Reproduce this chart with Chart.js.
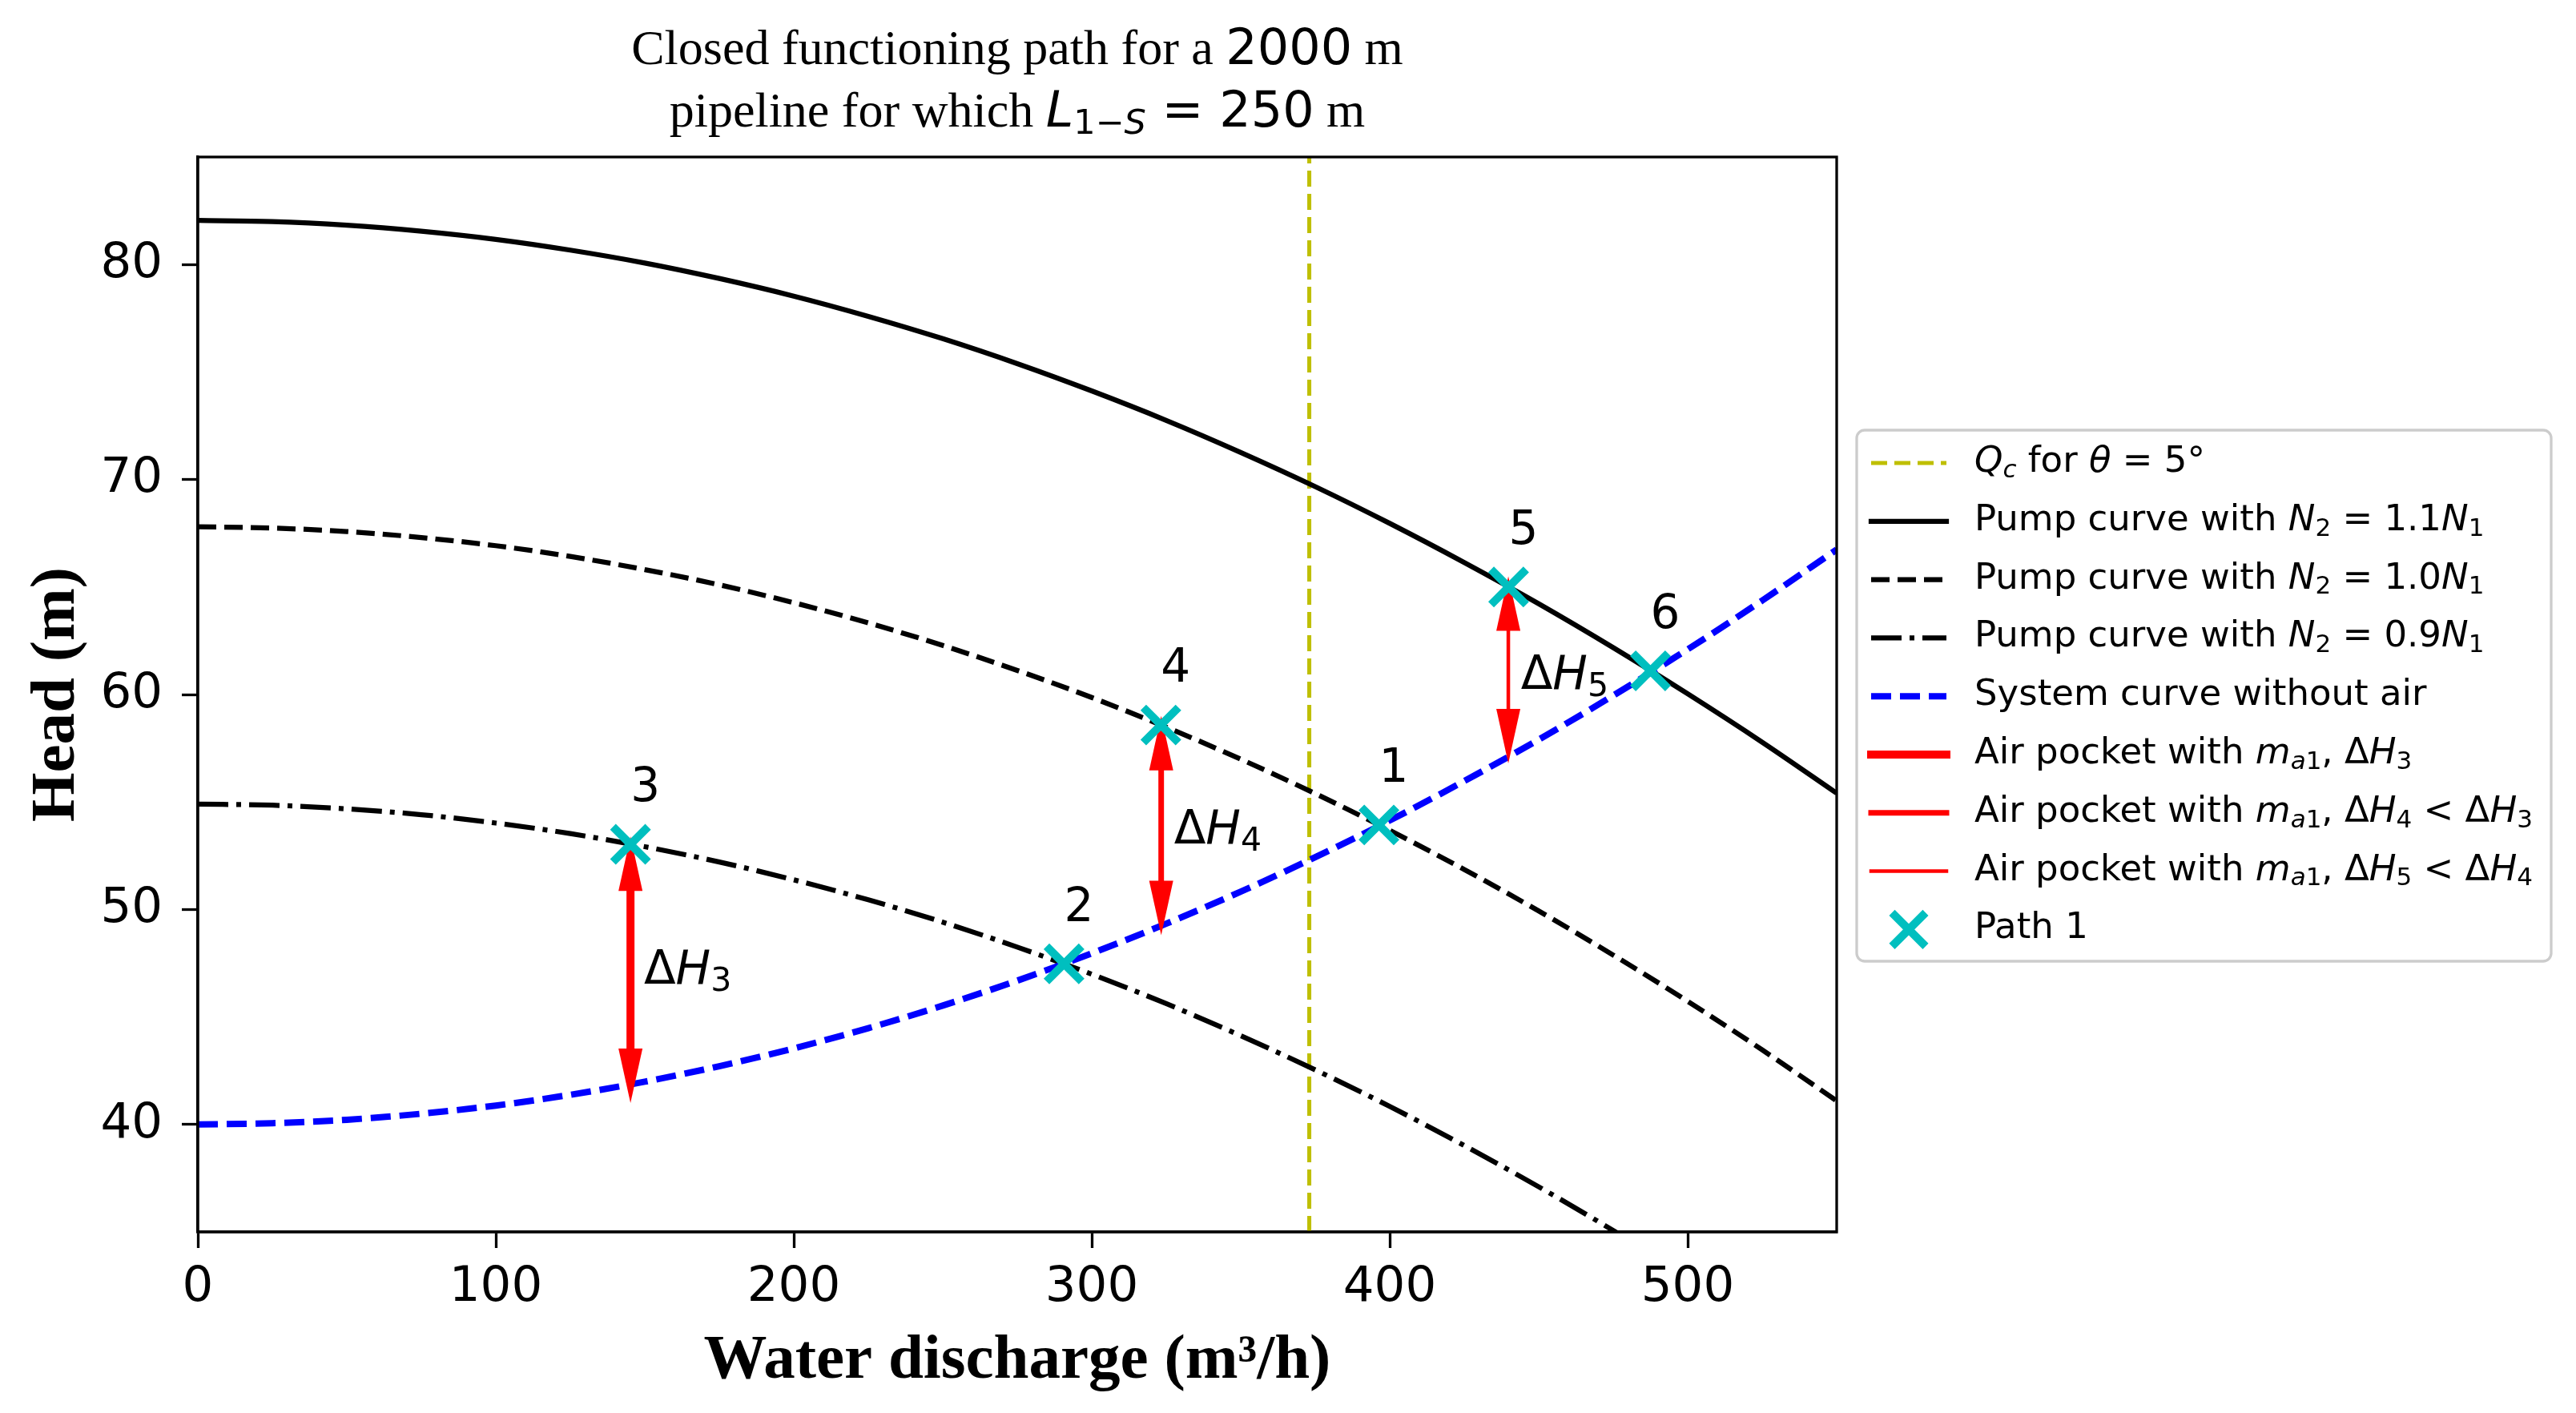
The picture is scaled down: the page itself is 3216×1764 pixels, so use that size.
<!DOCTYPE html>
<html><head><meta charset="utf-8">
<script src="https://cdn.jsdelivr.net/npm/chart.js@4.4.1/dist/chart.umd.min.js"></script>
<style>html,body{margin:0;padding:0;background:#fff;} canvas{display:block;}</style>
</head><body>
<canvas id="c" width="3216" height="1764" style="width:3216px;height:1764px"></canvas>
<script>
// ---------- data ----------
const discharge   = [0,25,50,75,100,125,150,175,200,225,250,275,300,325,350,375,400,425,450,475,500,525,550];
const pump11      = [82.05,82.00,81.83,81.55,81.17,80.67,80.07,79.35,78.53,77.59,76.55,75.39,74.12,72.75,71.26,69.67,67.96,66.14,64.22,62.18,60.03,57.78,55.41];
const pump10      = [67.80,67.74,67.58,67.30,66.92,66.42,65.81,65.10,64.27,63.33,62.28,61.12,59.86,58.48,56.99,55.39,53.68,51.86,49.93,47.88,45.73,43.47,41.10];
const pump09      = [54.90,54.85,54.68,54.41,54.02,53.53,52.92,52.21,51.38,50.45,49.41,48.25,46.99,45.62,44.13,42.54,40.84,39.02,37.10,35.07,32.93,30.67,28.31];
const systemCurve = [40.00,40.06,40.22,40.50,40.88,41.38,41.99,42.71,43.54,44.48,45.53,46.69,47.96,49.34,50.83,52.43,54.14,55.97,57.90,59.95,62.10,64.37,66.74];
const qcDischarge = [373, 373];
const qcHead      = [35, 85];
const pathQ       = [396.4, 290.7, 145.2, 323.2, 439.9, 487.5];
const pathH       = [53.93, 47.47, 53.03, 58.58, 65.0, 61.1];
const pathLabels  = ['1','2','3','4','5','6'];
const arrowQ      = [145.2, 323.3, 439.8];
const arrowTop    = [53.4, 59.0, 65.5];
const arrowBottom = [41.0, 48.8, 56.8];
const dhLabelQ    = [149.7, 327.6, 444.0];
const dhLabelH    = [46.55, 53.07, 60.26];
const dhSub       = ['3','4','5'];
const xTicks      = [0,100,200,300,400,500];
const yTicks      = [40,50,60,70,80];

// ---------- styling ----------
const SANS = "'DejaVu Sans'";
const SERIF = "'Liberation Serif'";
const CYAN = '#00bfbf', YEL = '#bfbf00', BLUE = '#0000ff', RED = '#ff0000';

function pts(xs, ys){ return xs.map((v,i)=>({x:v, y:ys[i]})); }

function S(t,size,o){ o=o||{}; return {t, size, italic:!!o.i, serif:!!o.serif, bold:!!o.b, dy:o.dy||0}; }
function rm(t,s){ return S(t,s); }
function it(t,s){ return S(t,s,{i:true}); }
function sub(t,s){ return S(t,Math.round(s*0.7),{dy:s*0.15}); }
function subIt(t,s){ return S(t,Math.round(s*0.7),{i:true,dy:s*0.15}); }
function sf(t,s){ return S(t,s,{serif:true}); }
function fontOf(s){ return (s.italic?'italic ':'')+(s.bold?'bold ':'')+s.size+'px '+(s.serif?SERIF:SANS); }
function richWidth(ctx,segs){ let w=0; for(const s of segs){ ctx.font=fontOf(s); w+=ctx.measureText(s.t).width; } return w; }
function drawRich(ctx,segs,x,y,align){
  let cx = x;
  if(align==='center') cx = x - richWidth(ctx,segs)/2;
  ctx.textAlign='left'; ctx.textBaseline='alphabetic'; ctx.fillStyle='#000';
  for(const s of segs){ ctx.font=fontOf(s); ctx.fillText(s.t,cx,y+s.dy); cx+=ctx.measureText(s.t).width; }
}

function drawArrows(chart){
  const {ctx, scales:{x,y}} = chart;
  const widths=[10,7,4.5], hl=68, hw=15;
  ctx.save();
  ctx.fillStyle=RED; ctx.strokeStyle=RED; ctx.lineCap='butt';
  for(let i=0;i<arrowQ.length;i++){
    const px=x.getPixelForValue(arrowQ[i]);
    const t=y.getPixelForValue(arrowTop[i]);
    const b=y.getPixelForValue(arrowBottom[i]);
    ctx.lineWidth=widths[i];
    ctx.beginPath(); ctx.moveTo(px,t+hl-4); ctx.lineTo(px,b-hl+4); ctx.stroke();
    ctx.beginPath(); ctx.moveTo(px,t); ctx.lineTo(px-hw,t+hl); ctx.lineTo(px+hw,t+hl); ctx.closePath(); ctx.fill();
    ctx.beginPath(); ctx.moveTo(px,b); ctx.lineTo(px-hw,b-hl); ctx.lineTo(px+hw,b-hl); ctx.closePath(); ctx.fill();
  }
  ctx.restore();
}

function drawLegend(ctx){
  const L=2318, T=537, R=3185, B=1200, r=10;
  ctx.save();
  ctx.beginPath();
  ctx.moveTo(L+r,T); ctx.lineTo(R-r,T); ctx.arcTo(R,T,R,T+r,r); ctx.lineTo(R,B-r); ctx.arcTo(R,B,R-r,B,r);
  ctx.lineTo(L+r,B); ctx.arcTo(L,B,L,B-r,r); ctx.lineTo(L,T+r); ctx.arcTo(L,T,L+r,T,r); ctx.closePath();
  ctx.fillStyle='rgba(255,255,255,0.8)'; ctx.fill();
  ctx.lineWidth=3.3; ctx.strokeStyle='#cccccc'; ctx.stroke();
  const fs=45, hx0=2336, hx1=2430, tx=2465;
  const rows=[
    {c:YEL, w:5, d:[20,9], segs:[it('Q',fs),subIt('c',fs),rm(' for ',fs),it('θ',fs),rm(' = 5°',fs)]},
    {c:'#000', w:6.25, d:[], segs:[rm('Pump curve with ',fs),it('N',fs),sub('2',fs),rm(' = 1.1',fs),it('N',fs),sub('1',fs)]},
    {c:'#000', w:6.25, d:[23,10], segs:[rm('Pump curve with ',fs),it('N',fs),sub('2',fs),rm(' = 1.0',fs),it('N',fs),sub('1',fs)]},
    {c:'#000', w:6.25, d:[38,10,6,10], segs:[rm('Pump curve with ',fs),it('N',fs),sub('2',fs),rm(' = 0.9',fs),it('N',fs),sub('1',fs)]},
    {c:BLUE, w:8, d:[25,11], segs:[rm('System curve without air',fs)]},
    {c:RED, w:10, d:[], segs:[rm('Air pocket with ',fs),it('m',fs),subIt('a',fs),sub('1',fs),rm(', Δ',fs),it('H',fs),sub('3',fs)]},
    {c:RED, w:7, d:[], segs:[rm('Air pocket with ',fs),it('m',fs),subIt('a',fs),sub('1',fs),rm(', Δ',fs),it('H',fs),sub('4',fs),rm(' < Δ',fs),it('H',fs),sub('3',fs)]},
    {c:RED, w:4.5, d:[], segs:[rm('Air pocket with ',fs),it('m',fs),subIt('a',fs),sub('1',fs),rm(', Δ',fs),it('H',fs),sub('5',fs),rm(' < Δ',fs),it('H',fs),sub('4',fs)]},
    {marker:true, segs:[rm('Path 1',fs)]}
  ];
  rows.forEach((row,i)=>{
    const yy=578+i*72.8;
    if(row.marker){
      const cx=(hx0+hx1)/2, a=21;
      ctx.strokeStyle=CYAN; ctx.lineWidth=10; ctx.lineCap='butt'; ctx.setLineDash([]);
      ctx.beginPath(); ctx.moveTo(cx-a,yy-a); ctx.lineTo(cx+a,yy+a); ctx.moveTo(cx+a,yy-a); ctx.lineTo(cx-a,yy+a); ctx.stroke();
    } else {
      ctx.strokeStyle=row.c; ctx.lineWidth=row.w; ctx.setLineDash(row.d);
      ctx.lineCap = row.d.length? 'butt':'square';
      ctx.beginPath(); ctx.moveTo(hx0,yy); ctx.lineTo(hx1,yy); ctx.stroke();
      ctx.setLineDash([]);
    }
    drawRich(ctx,row.segs,tx,yy+11,'left');
  });
  ctx.restore();
}

const overlay = {
  id:'overlay',
  beforeDatasetDraw(chart,args){ if(args.index===0) drawArrows(chart); },
  afterDatasetsDraw(chart){
    const {ctx, chartArea:a, scales:{x,y}} = chart;
    ctx.save();
    // point labels
    ctx.fillStyle='#000'; ctx.font='58px '+SANS; ctx.textAlign='left'; ctx.textBaseline='alphabetic';
    pathLabels.forEach((lab,i)=>{ ctx.fillText(lab, x.getPixelForValue(pathQ[i]), y.getPixelForValue(pathH[i]+2)); });
    // delta H labels
    dhSub.forEach((s,i)=>{
      drawRich(ctx,[rm('Δ',58),it('H',58),sub(s,58)], x.getPixelForValue(dhLabelQ[i]), y.getPixelForValue(dhLabelH[i]),'left');
    });
    // frame
    ctx.strokeStyle='#000'; ctx.lineWidth=3.3; ctx.setLineDash([]);
    ctx.strokeRect(a.left,a.top,a.right-a.left,a.bottom-a.top);
    ctx.restore();
  },
  afterDraw(chart){
    const ctx=chart.ctx, a=chart.chartArea, cx=(a.left+a.right)/2, cy=(a.top+a.bottom)/2;
    ctx.save();
    // title
    drawRich(ctx,[sf('Closed functioning path for a ',62),rm('2000',62),sf(' m',62)],cx,80,'center');
    drawRich(ctx,[sf('pipeline for which ',62),it('L',62),sub('1−',62),subIt('S',62),rm(' = 250',62),sf(' m',62)],cx,158,'center');
    // axis titles
    ctx.fillStyle='#000'; ctx.font='bold 79px '+SERIF; ctx.textAlign='center'; ctx.textBaseline='alphabetic';
    ctx.fillText('Water discharge (m³/h)', cx, 1720);
    ctx.translate(92, cy); ctx.rotate(-Math.PI/2);
    ctx.fillText('Head (m)', 0, 0);
    ctx.restore();
    drawLegend(ctx);
  }
};

const tickFont = {family:SANS, size:61};
new Chart(document.getElementById('c'), {
  type:'line',
  data:{
    datasets:[
      {label:'Path 1', data:pts(pathQ,pathH), showLine:false, pointStyle:'crossRot', pointRadius:31, pointHoverRadius:31,
       pointBorderWidth:10, pointBorderColor:CYAN, pointBackgroundColor:CYAN, borderColor:CYAN, clip:false},
      {label:'System curve without air', data:pts(discharge,systemCurve), borderColor:BLUE, borderWidth:8, borderDash:[25,11],
       pointRadius:0, cubicInterpolationMode:'monotone', fill:false, clip:0},
      {label:'Pump 0.9', data:pts(discharge,pump09), borderColor:'#000', borderWidth:6.25, borderDash:[38,10,6,10],
       pointRadius:0, cubicInterpolationMode:'monotone', fill:false, clip:0},
      {label:'Pump 1.0', data:pts(discharge,pump10), borderColor:'#000', borderWidth:6.25, borderDash:[23,10],
       pointRadius:0, cubicInterpolationMode:'monotone', fill:false, clip:0},
      {label:'Pump 1.1', data:pts(discharge,pump11), borderColor:'#000', borderWidth:6.25,
       pointRadius:0, cubicInterpolationMode:'monotone', fill:false, clip:0},
      {label:'Qc', data:pts(qcDischarge,qcHead), borderColor:YEL, borderWidth:5, borderDash:[20,9],
       pointRadius:0, fill:false, clip:0}
    ]
  },
  options:{
    responsive:false, maintainAspectRatio:false, devicePixelRatio:1, animation:false,
    layout:{padding:{left:47, right:923, top:196, bottom:76}},
    plugins:{legend:{display:false}, tooltip:{enabled:false}, title:{display:false}},
    scales:{
      x:{type:'linear', min:0, max:550,
         afterBuildTicks:(s)=>{ s.ticks = xTicks.map(v=>({value:v})); },
         afterFit:(s)=>{ s.height=150; },
         ticks:{font:tickFont, color:'#000', padding:14, maxRotation:0, autoSkip:false},
         grid:{display:true, drawOnChartArea:false, drawTicks:true, tickLength:20, tickWidth:3.3, tickColor:'#000', color:'#000'},
         border:{display:true, color:'#000', width:3.3}},
      y:{type:'linear', min:35, max:85,
         afterBuildTicks:(s)=>{ s.ticks = yTicks.map(v=>({value:v})); },
         afterFit:(s)=>{ s.width=200; },
         ticks:{font:tickFont, color:'#000', padding:24, autoSkip:false},
         grid:{display:true, drawOnChartArea:false, drawTicks:true, tickLength:20, tickWidth:3.3, tickColor:'#000', color:'#000'},
         border:{display:true, color:'#000', width:3.3}}
    }
  },
  plugins:[overlay]
});
</script>
</body></html>
